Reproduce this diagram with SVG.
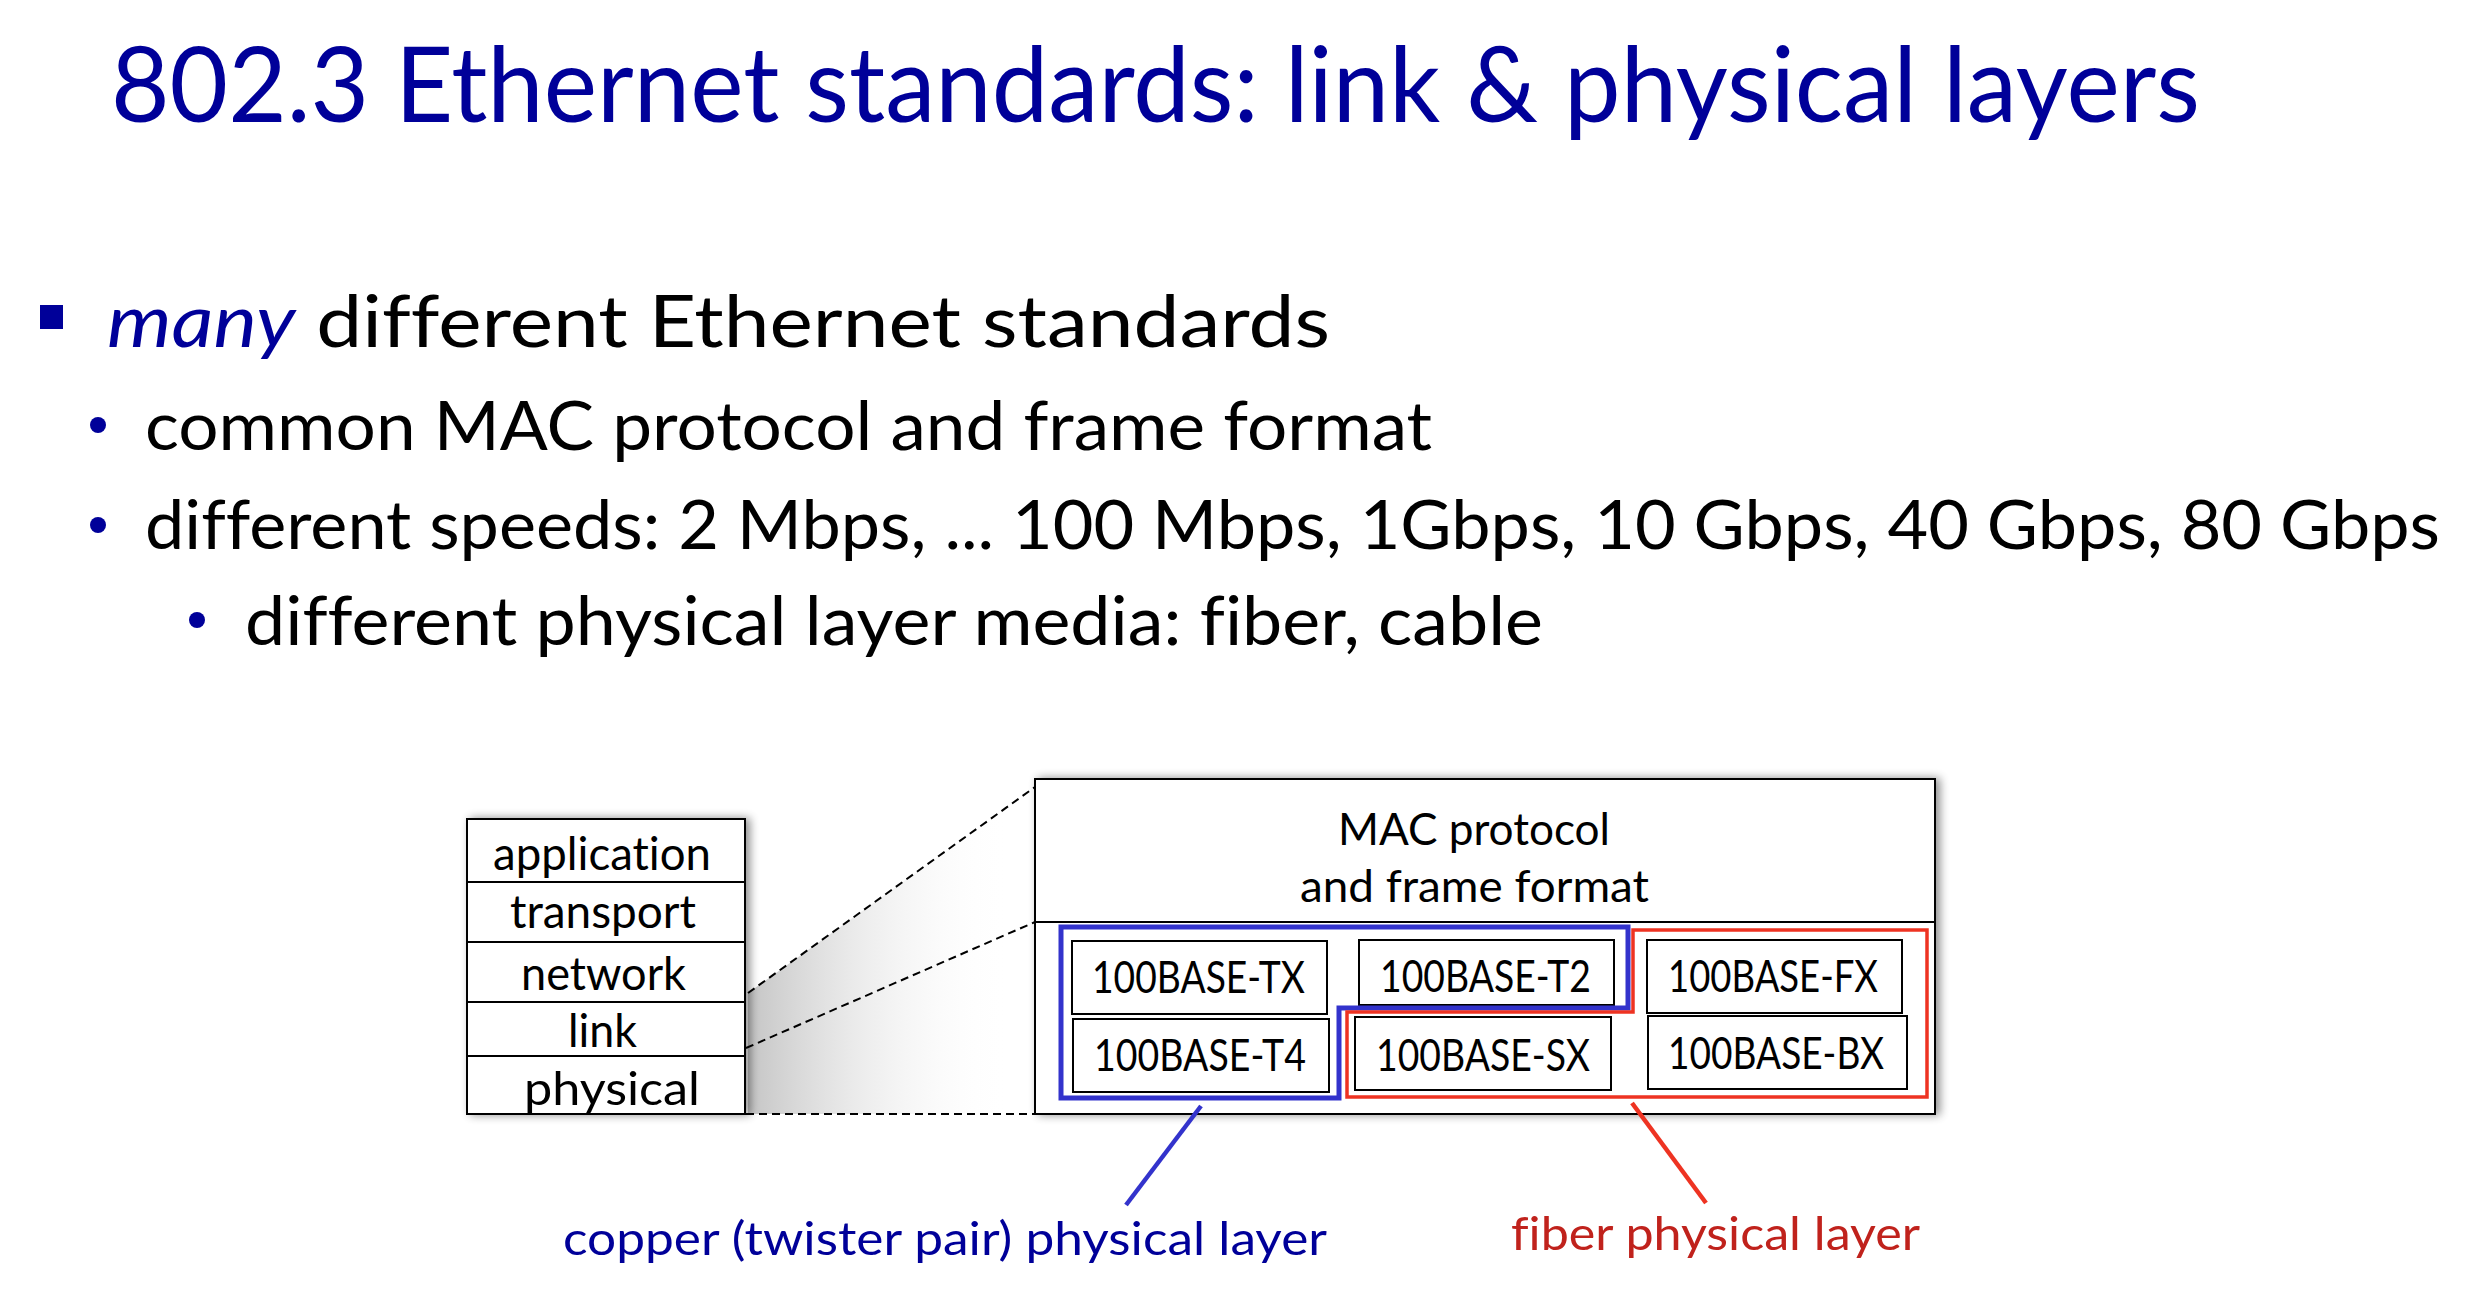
<svg xmlns="http://www.w3.org/2000/svg" width="2468" height="1290" viewBox="0 0 2468 1290">
  <defs>
    <style>
      text { font-family: Lato, "Open Sans", "Liberation Sans", sans-serif; font-variant-ligatures: none; font-feature-settings: "liga" 0, "clig" 0; }
      .title { font-size: 104px; fill: #000099; }
      .l1 { font-size: 72px; fill: #000000; }
      .l2 { font-size: 68px; fill: #000000; }
      .em { font-style: italic; fill: #000099; }
      .dot { fill: #000099; }
      .box { fill: #ffffff; stroke: #000000; stroke-width: 2; }
      .layer { font-size: 46px; fill: #000000; }
      .std { font-size: 44px; fill: #000000; }
      .mac { font-size: 45px; fill: #000000; }
      .dash { fill: none; stroke: #000000; stroke-width: 2; stroke-dasharray: 8 5; }
      .copper { fill: none; stroke: #3333cc; stroke-width: 5; stroke-linejoin: miter; }
      .fiber { fill: none; stroke: #ee3322; stroke-width: 3.5; stroke-linejoin: miter; }
      .cap-copper { font-size: 46px; fill: #000099; }
      .cap-fiber { font-size: 46px; fill: #c0221c; }
    </style>
    <filter id="shadow" x="-10%" y="-10%" width="125%" height="125%">
      <feGaussianBlur in="SourceAlpha" stdDeviation="5"/>
      <feOffset dx="4" dy="0" result="blur"/>
      <feComponentTransfer><feFuncA type="linear" slope="0.45"/></feComponentTransfer>
      <feMerge><feMergeNode/><feMergeNode in="SourceGraphic"/></feMerge>
    </filter>
    <linearGradient id="zoomShade" x1="746" y1="0" x2="1010" y2="0" gradientUnits="userSpaceOnUse">
      <stop offset="0" stop-color="#c4c4c4"/>
      <stop offset="1" stop-color="#ffffff" stop-opacity="0"/>
    </linearGradient>
  </defs>

  <rect width="2468" height="1290" fill="#ffffff"/>

  <!-- heading -->
  <g id="title">
    <text class="title" x="111" y="122" textLength="2089" lengthAdjust="spacingAndGlyphs">802.3 Ethernet standards: link &amp; physical layers</text>
  </g>

  <!-- bullet list -->
  <g id="bullets">
    <rect class="dot" x="40" y="305" width="23" height="24"/>
    <text class="l1" x="107" y="347" textLength="1223" lengthAdjust="spacingAndGlyphs"><tspan class="em">many</tspan> different Ethernet standards</text>
    <circle class="dot" cx="98" cy="425" r="8"/>
    <text class="l2" x="145" y="450" textLength="1287" lengthAdjust="spacingAndGlyphs">common MAC protocol and frame format</text>
    <circle class="dot" cx="98" cy="525" r="8"/>
    <text class="l2" x="145" y="549" textLength="2295" lengthAdjust="spacingAndGlyphs">different speeds: 2 Mbps, ... 100 Mbps, 1Gbps, 10 Gbps, 40 Gbps, 80 Gbps</text>
    <circle class="dot" cx="197" cy="620" r="8"/>
    <text class="l2" x="245" y="645" textLength="1298" lengthAdjust="spacingAndGlyphs">different physical layer media: fiber, cable</text>
  </g>

  <!-- shaded wedge between the stack and the enlarged link/physical view -->
  <polygon points="748,993 1035,787 1035,1114 748,1114" fill="url(#zoomShade)"/>

  <!-- protocol stack -->
  <g id="stack">
    <rect class="box" x="467" y="819" width="278" height="295" filter="url(#shadow)"/>
    <g id="layer-application">
      <text class="layer" x="493" y="870" textLength="218" lengthAdjust="spacingAndGlyphs">application</text>
    </g>
    <g id="layer-transport">
      <line x1="467" y1="882" x2="745" y2="882" stroke="#000" stroke-width="2"/>
      <text class="layer" x="510" y="928" textLength="186" lengthAdjust="spacingAndGlyphs">transport</text>
    </g>
    <g id="layer-network">
      <line x1="467" y1="942" x2="745" y2="942" stroke="#000" stroke-width="2"/>
      <text class="layer" x="521" y="990" textLength="165" lengthAdjust="spacingAndGlyphs">network</text>
    </g>
    <g id="layer-link">
      <line x1="467" y1="1002" x2="745" y2="1002" stroke="#000" stroke-width="2"/>
      <text class="layer" x="568" y="1047" textLength="69" lengthAdjust="spacingAndGlyphs">link</text>
    </g>
    <g id="layer-physical">
      <line x1="467" y1="1056" x2="745" y2="1056" stroke="#000" stroke-width="2"/>
      <text class="layer" x="524" y="1105" textLength="176" lengthAdjust="spacingAndGlyphs">physical</text>
    </g>
  </g>

  <!-- enlarged link + physical layer box -->
  <g id="mac-box">
    <rect class="box" x="1035" y="779" width="900" height="335" filter="url(#shadow)"/>
    <line x1="1035" y1="922" x2="1935" y2="922" stroke="#000" stroke-width="2"/>
    <text class="mac" x="1338" y="845" textLength="272" lengthAdjust="spacingAndGlyphs">MAC protocol</text>
    <text class="mac" x="1300" y="902" textLength="349" lengthAdjust="spacingAndGlyphs">and frame format</text>
  </g>

  <g id="std-100base-tx">
    <rect class="box" x="1072" y="941" width="255" height="73"/>
    <text class="std" x="1092" y="993" textLength="213" lengthAdjust="spacingAndGlyphs">100BASE-TX</text>
  </g>
  <g id="std-100base-t2">
    <rect class="box" x="1359" y="940" width="255" height="65"/>
    <text class="std" x="1380" y="992" textLength="211" lengthAdjust="spacingAndGlyphs">100BASE-T2</text>
  </g>
  <g id="std-100base-fx">
    <rect class="box" x="1647" y="940" width="255" height="73"/>
    <text class="std" x="1668" y="992" textLength="210" lengthAdjust="spacingAndGlyphs">100BASE-FX</text>
  </g>
  <g id="std-100base-t4">
    <rect class="box" x="1073" y="1019" width="256" height="73"/>
    <text class="std" x="1094" y="1071" textLength="212" lengthAdjust="spacingAndGlyphs">100BASE-T4</text>
  </g>
  <g id="std-100base-sx">
    <rect class="box" x="1355" y="1017" width="256" height="73"/>
    <text class="std" x="1376" y="1071" textLength="214" lengthAdjust="spacingAndGlyphs">100BASE-SX</text>
  </g>
  <g id="std-100base-bx">
    <rect class="box" x="1648" y="1016" width="259" height="73"/>
    <text class="std" x="1668" y="1069" textLength="216" lengthAdjust="spacingAndGlyphs">100BASE-BX</text>
  </g>

  <!-- media groupings -->
  <g id="copper-group">
    <path class="copper" d="M1061,927 H1628 V1008 H1339 V1098 H1061 Z"/>
  </g>
  <g id="fiber-group">
    <path class="fiber" d="M1633,930 H1927 V1097 H1347 V1012 H1633 Z"/>
  </g>

  <!-- connectors -->
  <g id="connectors">
    <line class="dash" x1="748" y1="993" x2="1035" y2="787"/>
    <line class="dash" x1="746" y1="1048" x2="1035" y2="922"/>
    <line class="dash" x1="746" y1="1114" x2="1035" y2="1114"/>
    <line x1="1201" y1="1106" x2="1126" y2="1205" stroke="#3333cc" stroke-width="4.5"/>
    <line x1="1632" y1="1103" x2="1706" y2="1203" stroke="#ee3322" stroke-width="4.5"/>
  </g>

  <!-- captions -->
  <g id="label-copper">
    <text class="cap-copper" x="563" y="1255" textLength="764" lengthAdjust="spacingAndGlyphs">copper (twister pair) physical layer</text>
  </g>
  <g id="label-fiber">
    <text class="cap-fiber" x="1511" y="1250" textLength="409" lengthAdjust="spacingAndGlyphs">fiber physical layer</text>
  </g>
</svg>
